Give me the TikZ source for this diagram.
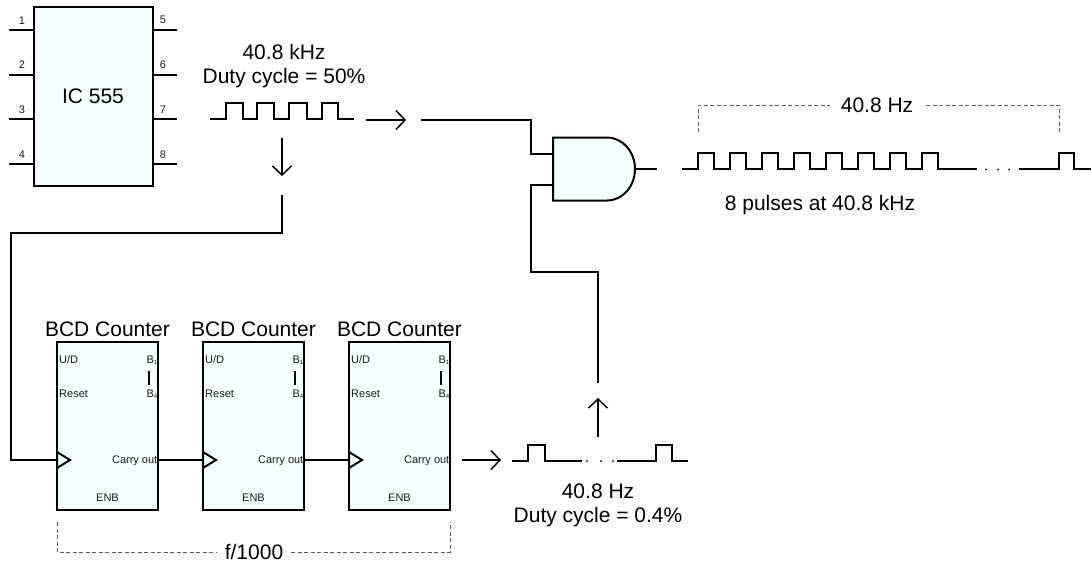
\documentclass[tikz,border=0pt]{standalone}
\usepackage{fontspec}
\setmainfont{Liberation Sans}
\usetikzlibrary{arrows.meta}
\definecolor{chipfill}{HTML}{F6FFFF}
\newcommand{\bigf}{\fontsize{21}{25}\selectfont}
\newcommand{\smallf}{\fontsize{11}{13}\selectfont}
\newcommand{\tinysub}[1]{{\fontsize{6}{6}\selectfont\raisebox{-1pt}{#1}}}
\tikzset{
  wire/.style={draw=black,line width=2pt,line join=miter},
  thinwire/.style={draw=black,line width=1.6pt},
  flow/.style={draw=black,line width=1.5pt,-{Straight Barb[length=9pt,width=19pt,line width=1.5pt]}},
  chip/.style={draw=black,line width=2pt,fill=chipfill,inner sep=0pt,minimum width=#1},
  bigtext/.style={inner sep=0pt,font=\bigf,text=black},
  tinytext/.style={inner sep=0pt,font=\smallf,text=black!90},
  brace/.style={draw=black!65,line width=0.9pt,dash pattern=on 4pt off 2.5pt},
  wave/.style={draw=black,line width=1.9pt,line join=miter}
}
\begin{document}
\begin{tikzpicture}[x=1pt,y=-1pt]
\useasboundingbox (0,0) rectangle (1091,566);
% IC 555
\node[chip=119pt,minimum height=179pt] (ic) at (93.5,96.5) {};
\node[bigtext] (iclabel) at (93,96) {IC 555};
\foreach \n/\y/\ly in {1/30/21,2/75/65,3/119/110,4/164/155}{
  \coordinate (pl\n) at (9,\y);
  \draw[thinwire] (pl\n) -- (34,\y);
  \node[tinytext] (pln\n) at (22,\ly) {\n};
}
\foreach \n/\y/\ly in {5/30/20,6/75/65,7/119/110,8/164/155}{
  \coordinate (pr\n) at (177,\y);
  \draw[thinwire] (153,\y) -- (pr\n);
  \node[tinytext] (prn\n) at (163,\ly) {\n};
}
% Top source text and wave
\node[bigtext] (fa) at (284,52) {40.8 kHz};
\node[bigtext] (fb) at (284,78) {Duty cycle = 50\%};
\draw[wave] (210,119) -- (226,119) -- (226,103) -- (243,103) -- (243,119) -- (257,119) -- (257,103) -- (274,103) -- (274,119) -- (289,119) -- (289,103) -- (307,103) -- (307,119) -- (322,119) -- (322,103) -- (338,103) -- (338,119) -- (354,119);
% flow arrows
\coordinate (a1s) at (282,138); \coordinate (a1e) at (282,176);
\draw[flow] (a1s) -- (a1e);
\coordinate (a2s) at (366,120); \coordinate (a2e) at (406,120);
\draw[flow] (a2s) -- (a2e);
\coordinate (a3s) at (462,460); \coordinate (a3e) at (501,460);
\draw[flow] (a3s) -- (a3e);
\coordinate (a4s) at (598,437); \coordinate (a4e) at (598,398);
\draw[flow] (a4s) -- (a4e);
% AND gate
\draw[chip=0pt] (553,137.5) -- (607,137.5) arc[start angle=-90,end angle=90,x radius=28,y radius=31.5] -- (553,200.5) -- cycle;
\coordinate (gin1) at (553,153.5);
\coordinate (gin2) at (553,185);
\coordinate (gout) at (635,169);
\coordinate (goute) at (657,169);
\draw[thinwire] (gout) -- (goute);
\coordinate (w1s) at (421,119.5);
\draw[wire] (w1s) -- (531,119.5) -- (531,153.5) -- (gin1);
\coordinate (w2e) at (598,383);
\draw[wire] (gin2) -- (531,185) -- (531,272) -- (598,272) -- (w2e);
% Output wave
\draw[wave] (682,169) -- (698,169)
  \foreach \i in {0,...,7}{ -- (698+\i*31.95,169) -- (698+\i*31.95,153) -- (714+\i*31.95,153) -- (714+\i*31.95,169) }
  -- (977,169);
\foreach \x in {986,998,1009} \fill (\x,169.5) circle (1pt);
\draw[wave] (1019,169) -- (1059,169) -- (1059,153) -- (1074,153) -- (1074,169) -- (1091,169);
\node[bigtext] (hz) at (877,105) {40.8 Hz};
\node[bigtext] (pulses) at (820,205) {8 pulses at 40.8 kHz};
\draw[brace] (698,132) -- (698,105) -- (830,105);
\draw[brace] (926,105) -- (1059,105) -- (1059,132);
% Feed to counter
\coordinate (f0) at (282,195);
% Counters
\foreach \c/\xl/\xc/\xr in {a/57/107.5/158,b/203/253.5/304,c/349/399.5/450}{
  \node[chip=101pt,minimum height=168pt] (cnt\c) at (\xc,426) {};
  \node[bigtext] (title\c) at (\xc,329) {BCD Counter};
  \node[tinytext,anchor=west] (ud\c) at (\xl+2,360) {U/D};
  \node[tinytext,anchor=west] (rs\c) at (\xl+2,394) {Reset};
  \node[tinytext,anchor=east] (b1\c) at (\xr-0.5,360) {B\tinysub{1}};
  \node[tinytext,anchor=east] (b4\c) at (\xr-0.5,394) {B\tinysub{4}};
  \draw[thinwire] (\xr-9,371) -- (\xr-9,385);
  \node[tinytext,anchor=east] (co\c) at (\xr-0.5,461) {Carry out};
  \node[tinytext] (en\c) at (\xc,498) {ENB};
  \coordinate (clk\c) at (\xl,460);
  \coordinate (out\c) at (\xr,460);
  \draw[chip=0pt] (\xl,452) -- (\xl+13,460) -- (\xl,468) -- cycle;
}
\draw[wire] (f0) -- (282,233) -- (11,233) -- (11,460) -- (clka);
\draw[wire] (outa) -- (clkb);
\draw[wire] (outb) -- (clkc);
% Bottom wave
\draw[wave] (512,461) -- (528,461) -- (528,445) -- (545,445) -- (545,461) -- (582,461);
\foreach \x in {587,601,613} \fill (\x,461) circle (1pt);
\draw[wave] (617,461) -- (656,461) -- (656,445) -- (672,445) -- (672,461) -- (688,461);
\node[bigtext] (ha) at (598,491) {40.8 Hz};
\node[bigtext] (hb) at (598,517) {Duty cycle = 0.4\%};
% f/1000
\node[bigtext] (div) at (254,552) {f/1000};
\coordinate (dl) at (216,552);
\coordinate (dr) at (291,552);
\draw[brace] (57,522) -- (57,552) -- (dl);
\draw[brace] (dr) -- (450,552) -- (450,522);
\end{tikzpicture}
\end{document}
